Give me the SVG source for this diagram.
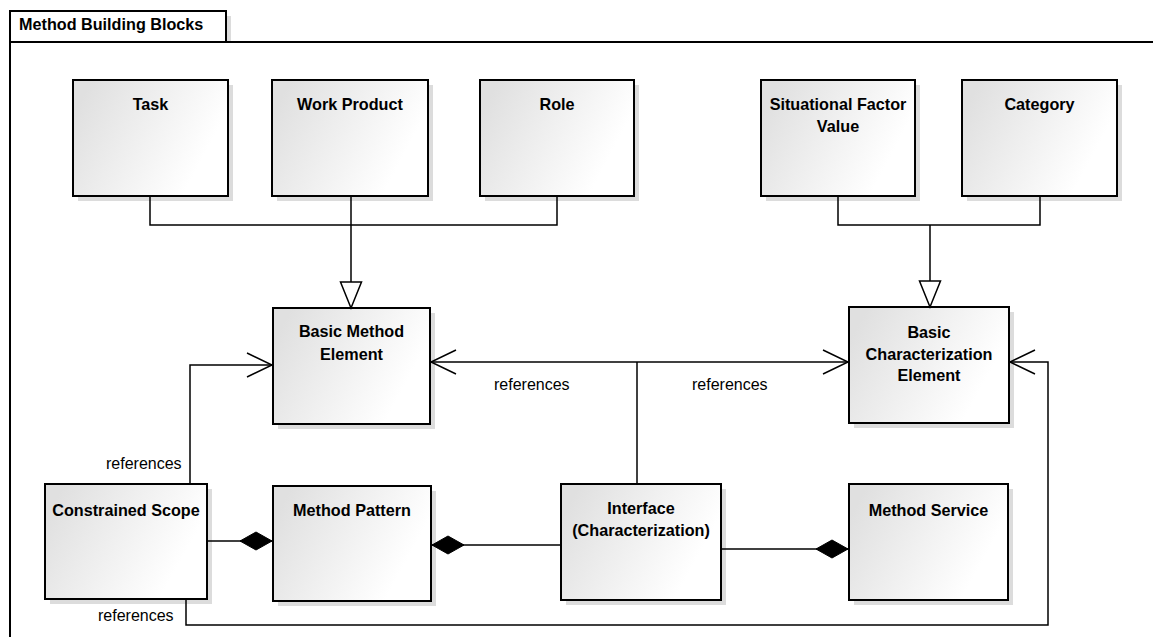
<svg xmlns="http://www.w3.org/2000/svg" width="1153" height="637" viewBox="0 0 1153 637">
  <defs>
    <linearGradient id="boxFill" x1="0" y1="0.3" x2="1" y2="0.7">
      <stop offset="0" stop-color="#e0e0e0"/>
      <stop offset="0.85" stop-color="#ffffff"/>
    </linearGradient>
    <marker id="openArrow" markerUnits="userSpaceOnUse" markerWidth="40" markerHeight="40" viewBox="-30 -20 40 40" refX="0" refY="0" orient="auto" overflow="visible">
      <path d="M-25,-12 L0,0 L-25,12" fill="none" stroke="#000" stroke-width="1.5"/>
    </marker>
    <marker id="genTriangle" markerUnits="userSpaceOnUse" markerWidth="40" markerHeight="40" viewBox="-30 -20 40 40" refX="0" refY="0" orient="auto" overflow="visible">
      <path d="M0,0 L-26,-10.5 L-26,10.5 Z" fill="#fff" stroke="#000" stroke-width="1.5"/>
    </marker>
    <marker id="diamond" markerUnits="userSpaceOnUse" markerWidth="40" markerHeight="40" viewBox="-5 -20 40 40" refX="0" refY="0" orient="auto" overflow="visible">
      <path d="M0,0 L16,-9 L32,0 L16,9 Z" fill="#000" stroke="#000" stroke-width="1"/>
    </marker>
  </defs>
  <style>
    .shadow { fill: #dcdcdc; }
    .box { fill: url(#boxFill); stroke: #000; stroke-width: 2; }
    .name { font-family: "Liberation Sans", Arial, sans-serif; font-size: 16.2px; font-weight: bold; fill: #000; text-anchor: middle; }
    .label { font-family: "Liberation Sans", Arial, sans-serif; font-size: 16px; fill: #000; }
    .edge { fill: none; stroke: #000; stroke-width: 1.5; }
    .frame { fill: none; stroke: #000; stroke-width: 2; }
  </style>

  <!-- package frame with name tab -->
  <g id="frame">
    <rect x="226" y="16" width="5" height="26" fill="#dcdcdc"/>
    <rect x="10" y="11" width="216" height="31" fill="#fff" stroke="#000" stroke-width="2"/>
    <path class="frame" d="M10,42 H1153 M10,42 V640"/>
    <text x="19" y="30" class="name" style="text-anchor:start">Method Building Blocks</text>
  </g>

  <g id="task">
    <rect class="shadow" x="78" y="85" width="155" height="116"/>
    <rect class="box" x="73" y="80" width="155" height="116"/>
    <text class="name" x="150.5" y="110">Task</text>
  </g>
  <g id="work-product">
    <rect class="shadow" x="277" y="85" width="156" height="116"/>
    <rect class="box" x="272" y="80" width="156" height="116"/>
    <text class="name" x="350" y="110">Work Product</text>
  </g>
  <g id="role">
    <rect class="shadow" x="485" y="85" width="154" height="116"/>
    <rect class="box" x="480" y="80" width="154" height="116"/>
    <text class="name" x="557" y="110">Role</text>
  </g>
  <g id="situational-factor-value">
    <rect class="shadow" x="766" y="85" width="154" height="116"/>
    <rect class="box" x="761" y="80" width="154" height="116"/>
    <text class="name" x="838" y="110">Situational Factor</text>
    <text class="name" x="838" y="132">Value</text>
  </g>
  <g id="category">
    <rect class="shadow" x="967" y="85" width="155" height="116"/>
    <rect class="box" x="962" y="80" width="155" height="116"/>
    <text class="name" x="1039.5" y="110">Category</text>
  </g>
  <g id="basic-method-element">
    <rect class="shadow" x="278" y="313" width="157" height="116"/>
    <rect class="box" x="273" y="308" width="157" height="116"/>
    <text class="name" x="351.5" y="337">Basic Method</text>
    <text class="name" x="351.5" y="360">Element</text>
  </g>
  <g id="basic-characterization-element">
    <rect class="shadow" x="854" y="312" width="160" height="116"/>
    <rect class="box" x="849" y="307" width="160" height="116"/>
    <text class="name" x="929" y="338">Basic</text>
    <text class="name" x="929" y="360">Characterization</text>
    <text class="name" x="929" y="381">Element</text>
  </g>
  <g id="constrained-scope">
    <rect class="shadow" x="50" y="489" width="162" height="115"/>
    <rect class="box" x="45" y="484" width="162" height="115"/>
    <text class="name" x="126" y="516">Constrained Scope</text>
  </g>
  <g id="method-pattern">
    <rect class="shadow" x="278" y="491" width="158" height="115"/>
    <rect class="box" x="273" y="486" width="158" height="115"/>
    <text class="name" x="352" y="516">Method Pattern</text>
  </g>
  <g id="interface">
    <rect class="shadow" x="566" y="489" width="160" height="116"/>
    <rect class="box" x="561" y="484" width="160" height="116"/>
    <text class="name" x="641" y="514">Interface</text>
    <text class="name" x="641" y="536">(Characterization)</text>
  </g>
  <g id="method-service">
    <rect class="shadow" x="854" y="489" width="159" height="116"/>
    <rect class="box" x="849" y="484" width="159" height="116"/>
    <text class="name" x="928.5" y="516">Method Service</text>
  </g>

  <!-- connectors, drawn over the node shadows -->
  <g id="connectors">
    <!-- generalizations -->
    <path class="edge" d="M150,197 V225 H557 V197"/>
    <path class="edge" d="M351,197 V308" marker-end="url(#genTriangle)"/>
    <path class="edge" d="M838,197 V225 H1040 V197"/>
    <path class="edge" d="M930,225 V307" marker-end="url(#genTriangle)"/>
    <!-- references from interface -->
    <path class="edge" d="M637,483 V362"/>
    <path class="edge" d="M637,362 H431" marker-end="url(#openArrow)"/>
    <path class="edge" d="M637,362 H848" marker-end="url(#openArrow)"/>
    <!-- references from constrained scope -->
    <path class="edge" d="M190,483 V365 H272" marker-end="url(#openArrow)"/>
    <path class="edge" d="M186,600 V625 H1048 V362 H1010" marker-end="url(#openArrow)"/>
    <!-- compositions -->
    <path class="edge" d="M272,541 H208" marker-start="url(#diamond)"/>
    <path class="edge" d="M432,545 H560" marker-start="url(#diamond)"/>
    <path class="edge" d="M848,549 H722" marker-start="url(#diamond)"/>
    <!-- labels -->
    <text class="label" x="106" y="469">references</text>
    <text class="label" x="494" y="390">references</text>
    <text class="label" x="692" y="390">references</text>
    <text class="label" x="98" y="621">references</text>
  </g>
</svg>
